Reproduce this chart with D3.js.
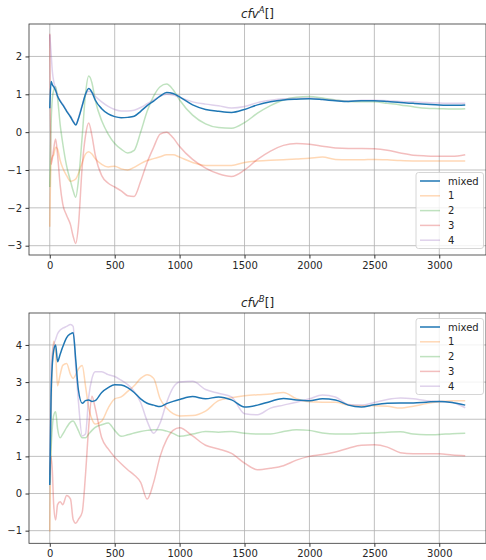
<!DOCTYPE html>
<html lang="en">
<head>
<meta charset="utf-8">
<title>cfv</title>
<script src="https://d3js.org/d3.v7.min.js"></script>
<style>
body { margin: 0; background: #fff; }
svg { font-family: "DejaVu Sans", sans-serif; }
.tick text { font-size: 10px; fill: #262626; }
</style>
</head>
<body>
<div id="container"></div>
<script>
// shared x positions for all series
var xs = [0,10,20,30,45,60,80,100,130,160,180,200,220,250,275,300,325,350,400,450,500,550,600,650,700,750,800,850,900,950,1000,
  1100,1200,1300,1400,1500,1600,1700,1800,1900,2000,2100,2200,2300,2400,2500,2600,2700,2800,2900,3000,3100,3200];

var seriesNames = ["mixed", "1", "2", "3", "4"];

// top panel: cfv^A[]
var aMixed = [0.63,1.34,1.25,1.2,1.1,0.95,0.82,0.72,0.55,0.4,0.28,0.19,0.35,0.7,1.0,1.15,1.05,0.85,0.62,0.48,0.41,0.38,0.39,0.42,0.55,0.7,0.82,0.95,1.05,1.02,0.93,
  0.72,0.6,0.55,0.52,0.6,0.72,0.8,0.85,0.87,0.88,0.86,0.83,0.81,0.83,0.83,0.81,0.78,0.76,0.74,0.72,0.71,0.72];
var a1 = [-2.5,-0.8,-0.65,-0.6,-0.4,-0.45,-0.75,-0.95,-1.15,-1.3,-1.28,-1.24,-1.1,-0.8,-0.58,-0.52,-0.58,-0.7,-0.85,-0.92,-0.9,-0.97,-1.0,-0.93,-0.83,-0.75,-0.7,-0.65,-0.6,-0.6,-0.66,
  -0.8,-0.88,-0.88,-0.88,-0.8,-0.76,-0.74,-0.73,-0.71,-0.69,-0.66,-0.72,-0.73,-0.73,-0.72,-0.73,-0.75,-0.76,-0.76,-0.76,-0.76,-0.76];
var a2 = [-1.45,0.2,0.9,1.1,1.2,0.9,0.2,-0.3,-0.9,-1.3,-1.55,-1.72,-1.3,-0.1,1.0,1.48,1.3,0.85,0.3,-0.05,-0.3,-0.45,-0.55,-0.48,0.0,0.55,0.95,1.2,1.27,1.12,0.85,
  0.45,0.22,0.12,0.1,0.25,0.5,0.7,0.85,0.92,0.94,0.9,0.85,0.81,0.8,0.8,0.76,0.72,0.67,0.63,0.62,0.61,0.62];
var a3 = [2.6,-0.85,-0.7,-0.45,-0.18,-0.6,-1.4,-1.9,-2.2,-2.45,-2.75,-2.94,-2.5,-0.9,-0.1,0.24,-0.1,-0.6,-1.15,-1.35,-1.45,-1.55,-1.68,-1.7,-1.3,-0.8,-0.4,-0.05,0.0,-0.15,-0.38,
  -0.72,-0.95,-1.1,-1.17,-1.0,-0.72,-0.5,-0.35,-0.3,-0.32,-0.37,-0.42,-0.43,-0.43,-0.44,-0.48,-0.55,-0.61,-0.63,-0.64,-0.64,-0.6];
var a4 = [2.57,2.1,1.6,1.35,1.15,0.97,0.84,0.74,0.57,0.42,0.3,0.21,0.37,0.72,0.98,1.08,1.05,0.95,0.8,0.68,0.6,0.56,0.56,0.58,0.65,0.75,0.85,0.95,1.0,0.98,0.92,
  0.8,0.74,0.7,0.64,0.68,0.78,0.84,0.88,0.89,0.9,0.87,0.84,0.82,0.84,0.84,0.83,0.81,0.8,0.78,0.77,0.76,0.76];

// bottom panel: cfv^B[]
var bMixed = [0.23,2.6,3.5,3.85,4.0,3.55,3.75,3.95,4.2,4.3,4.33,3.6,2.8,2.43,2.5,2.52,2.48,2.5,2.72,2.85,2.93,2.92,2.85,2.72,2.55,2.43,2.38,2.34,2.42,2.48,2.53,
  2.61,2.55,2.6,2.52,2.33,2.38,2.48,2.56,2.52,2.5,2.55,2.52,2.38,2.33,2.39,2.43,2.44,2.44,2.46,2.48,2.45,2.38];
var b1 = [-1.02,2.0,3.6,4.1,3.8,2.9,3.2,3.45,3.5,3.2,3.1,3.2,3.35,3.45,2.9,2.3,2.0,1.87,1.95,2.3,2.55,2.6,2.75,2.9,3.1,3.2,3.1,2.55,2.3,2.15,2.09,
  2.1,2.22,2.5,2.58,2.63,2.66,2.68,2.72,2.55,2.47,2.46,2.46,2.38,2.36,2.36,2.35,2.3,2.35,2.42,2.47,2.5,2.5];
var b2 = [0.28,1.2,1.8,2.1,2.2,1.75,1.5,1.6,1.78,1.92,1.95,1.85,1.7,1.5,1.5,1.6,1.7,1.78,1.85,1.9,1.7,1.54,1.58,1.63,1.67,1.7,1.72,1.72,1.68,1.62,1.54,
  1.6,1.67,1.65,1.67,1.62,1.6,1.6,1.67,1.72,1.7,1.63,1.6,1.6,1.62,1.63,1.65,1.66,1.6,1.58,1.59,1.61,1.62];
var b3 = [0.5,1.0,0.6,-0.3,-0.71,-0.3,-0.22,-0.3,-0.05,-0.15,-0.7,-0.8,-0.7,-0.5,0.5,1.8,2.62,2.3,1.5,1.2,0.98,0.8,0.64,0.5,0.3,-0.15,0.3,1.0,1.45,1.7,1.77,
  1.55,1.3,1.2,1.08,0.82,0.64,0.68,0.75,0.9,1.0,1.05,1.12,1.22,1.3,1.31,1.25,1.1,1.07,1.07,1.07,1.04,1.02];
var b4 = [0.3,3.3,3.8,4.0,4.15,4.3,4.4,4.45,4.5,4.55,4.5,3.4,2.5,1.55,1.6,2.6,3.1,3.28,3.28,3.2,3.15,3.05,2.93,2.75,2.45,1.95,1.62,1.9,2.45,2.85,3.0,
  3.02,2.8,2.7,2.6,2.15,2.12,2.3,2.38,2.46,2.55,2.65,2.6,2.4,2.38,2.45,2.53,2.57,2.55,2.5,2.48,2.45,2.31];

var yTicksA = [-3,-2,-1,0,1,2];
var yTicksB = [-1,0,1,2,3,4];
var xTicks = [0,500,1000,1500,2000,2500,3000];

var colors = ["#1f77b4", "#ff7f0e", "#2ca02c", "#d62728", "#9467bd"];
var alphas = [1, 0.3, 0.3, 0.3, 0.3];

var W = 486, H = 560;
var svg = d3.select("div#container").append("svg")
  .attr("width", W).attr("height", H)
  .style("background-color", "#ffffff");

var fmt = function(d) { return String(d).replace("-", "\u2212"); };

function panel(cfg) {
  var x = d3.scaleLinear().domain([-160, 3360]).range([29, 486]);
  var y = d3.scaleLinear().domain(cfg.ydom).range([cfg.bottom, cfg.top]);
  var g = svg.append("g");

  // grid
  g.selectAll(".gx").data(xTicks).enter().append("line")
    .attr("x1", function(d) { return x(d); }).attr("x2", function(d) { return x(d); })
    .attr("y1", cfg.top).attr("y2", cfg.bottom)
    .attr("stroke", "#b0b0b0").attr("stroke-width", 0.8);
  g.selectAll(".gy").data(cfg.yticks).enter().append("line")
    .attr("x1", 29).attr("x2", 486)
    .attr("y1", function(d) { return y(d); }).attr("y2", function(d) { return y(d); })
    .attr("stroke", "#b0b0b0").attr("stroke-width", 0.8);

  var line = d3.line()
    .x(function(d) { return x(d[0]); })
    .y(function(d) { return y(d[1]); })
    .curve(d3.curveMonotoneX);

  // draw faint series first, mixed on top
  [1, 2, 3, 4, 0].forEach(function(i) {
    var pts = xs.map(function(v, k) { return [v, cfg.series[i][k]]; });
    g.append("path").datum(pts)
      .attr("d", line)
      .attr("fill", "none")
      .attr("stroke", colors[i])
      .attr("stroke-opacity", alphas[i])
      .attr("stroke-width", 1.5);
  });

  // axes
  g.append("g").attr("transform", "translate(0," + cfg.bottom + ")")
    .call(d3.axisBottom(x).tickValues(xTicks).tickSize(3.5).tickPadding(3.5).tickFormat(fmt))
    .call(function(a) { a.select(".domain").remove(); a.selectAll("line").attr("stroke", "#333"); });
  g.append("g").attr("transform", "translate(29,0)")
    .call(d3.axisLeft(y).tickValues(cfg.yticks).tickSize(3.5).tickPadding(3.5).tickFormat(fmt))
    .call(function(a) { a.select(".domain").remove(); a.selectAll("line").attr("stroke", "#333"); });
  g.selectAll(".tick text").attr("font-family", "DejaVu Sans");

  // frame
  g.append("rect")
    .attr("x", 29).attr("y", cfg.top)
    .attr("width", 457).attr("height", cfg.bottom - cfg.top)
    .attr("fill", "none").attr("stroke", "#333").attr("stroke-width", 0.8);

  // title
  var t = g.append("text")
    .attr("x", 257.5).attr("y", cfg.top - 6)
    .attr("text-anchor", "middle")
    .attr("font-size", 12).attr("fill", "#262626");
  t.append("tspan").attr("font-style", "italic").text("cfv");
  t.append("tspan").attr("font-style", "italic").attr("font-size", 8.5).attr("dy", -5).text(cfg.sup);
  t.append("tspan").attr("dy", 5).text("[]");

  // legend
  var lg = g.append("g").attr("transform", "translate(416," + cfg.legTop + ")");
  lg.append("rect").attr("width", 67.5).attr("height", 76).attr("rx", 2.5)
    .attr("fill", "#fff").attr("fill-opacity", 0.8)
    .attr("stroke", "#cccccc").attr("stroke-width", 0.8);
  seriesNames.forEach(function(n, i) {
    var yy = 8.5 + i * 14.8;
    lg.append("line").attr("x1", 4).attr("x2", 24).attr("y1", yy).attr("y2", yy)
      .attr("stroke", colors[i]).attr("stroke-opacity", alphas[i]).attr("stroke-width", 1.5);
    lg.append("text").attr("x", 32).attr("y", yy + 3.6)
      .attr("font-size", 10).attr("fill", "#262626").text(n);
  });
}

panel({ top: 24, bottom: 255, ydom: [-3.246, 2.857], yticks: yTicksA,
  series: [aMixed, a1, a2, a3, a4], sup: "A", legTop: 172.5 });
panel({ top: 313, bottom: 543.3, ydom: [-1.34, 4.86], yticks: yTicksB,
  series: [bMixed, b1, b2, b3, b4], sup: "B", legTop: 318.5 });
</script>
</body>
</html>
